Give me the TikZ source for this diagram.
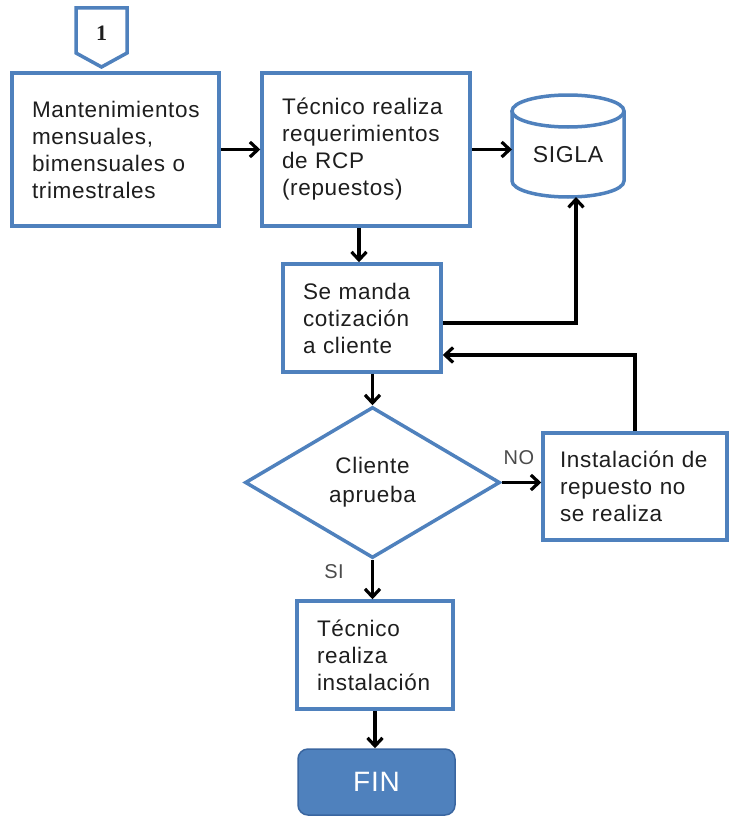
\documentclass[tikz,border=0pt]{standalone}
\usepackage{fontspec}
\setmainfont{Liberation Sans}[LetterSpace=3]
\newfontfamily\numfont{Liberation Serif}
\usetikzlibrary{shapes.geometric,arrows.meta,calc}
\definecolor{flowblue}{HTML}{4F81BD}
\definecolor{flowdark}{HTML}{3A66A0}
\definecolor{ink}{HTML}{1E1E1E}

\begin{document}
\begin{tikzpicture}[x=1pt,y=-1pt,
  txt/.style={font=\fontsize{22.5pt}{27pt}\selectfont, text=ink,
    execute at begin node={\hyphenpenalty=10000\relax}},
  procbox/.style={txt, draw=flowblue, line width=3.5pt, fill=white,
    inner xsep=0pt, inner ysep=0pt, align=left},
  decision/.style={diamond, draw=flowblue, line width=3.5pt, fill=white,
    font=\fontsize{22.5pt}{29pt}\selectfont, text=ink, align=center, inner sep=0pt},
  cyl/.style={draw=flowblue, line width=3.5pt},
  flow/.style={draw=black, line width=3.2pt, -{Straight Barb[length=8pt,width=15pt]}},
  tag/.style={font=\fontsize{20pt}{24pt}\selectfont, text=ink!80}
]
\useasboundingbox (0,0) rectangle (728,816);

% off-page connector
\draw[cyl, fill=white, line join=miter] (76,8) -- (127,8) -- (127,53) -- (101.5,67) -- (76,53) -- cycle;
\node[font=\numfont\bfseries\fontsize{22pt}{24pt}\selectfont, text=ink] (conn) at (101.5,33) {1};

% process boxes
\node[procbox, minimum width=207pt, minimum height=153pt, text width=167pt]
  (mant) at (115.5,149.5) {Mantenimientos\\mensuales,\\bimensuales o\\trimestrales};
\node[procbox, minimum width=208pt, minimum height=153pt, text width=168pt]
  (tec) at (366,149.5) {Técnico realiza\\requerimientos\\de RCP\\(repuestos)};
\node[procbox, minimum width=158pt, minimum height=108pt, text width=118pt]
  (cot) at (362,318) {Se manda\\cotización\\a cliente};
\node[procbox, minimum width=184pt, minimum height=107pt, text width=150pt]
  (inst) at (635,486.5) {Instalación de\\repuesto no\\se realiza};
\node[procbox, minimum width=156pt, minimum height=108pt, text width=116pt]
  (tinst) at (375,655) {Técnico\\realiza\\instalación};

% decision
\node[decision, minimum width=255pt, minimum height=151pt] (dec) at (372.5,482.5) {Cliente\\aprueba};

% database cylinder
\node[minimum width=112pt, minimum height=102pt, inner sep=0pt, outer sep=0pt] (sigla) at (568,146) {};
\fill[white] (512,111) -- (512,181) .. controls (512,189.84) and (537.07,197) .. (568,197)
  .. controls (598.93,197) and (624,189.84) .. (624,181) -- (624,111) -- cycle;
\draw[cyl] (512,111) -- (512,181) .. controls (512,189.84) and (537.07,197) .. (568,197)
  .. controls (598.93,197) and (624,189.84) .. (624,181) -- (624,111);
\draw[cyl, fill=white] (568,111) ellipse [x radius=56, y radius=16];
\node[font=\fontsize{23pt}{26pt}\selectfont, text=ink] (siglatext) at (568,155) {SIGLA};

% terminator
\node[draw=flowdark, fill=flowblue, rounded corners=10pt, line width=1.5pt,
  minimum width=157pt, minimum height=66pt, text=white,
  font=\fontsize{28pt}{32pt}\selectfont] (fin) at (376.5,782) {FIN};

% connectors
\draw[flow] (mant.east) -- (tec.west);
\draw[flow] (tec.east) -- (tec.east -| sigla.west);
\coordinate (tq) at ($(tec.south)+(-7,0)$);
\draw[flow] (tq) -- (tq |- cot.north);
\coordinate (cr) at ($(cot.east)+(0,5)$);
\coordinate (sg) at ($(sigla.south)+(8,0)$);
\draw[flow] (cr) -| (sg);
\coordinate (cl) at ($(cot.east)+(0,37)$);
\draw[flow] (inst.north) |- (cl);
\draw[flow] (cot.south -| dec.north) -- (dec.north);
\draw[flow] (dec.east) -- (dec.east -| inst.west);
\draw[flow] (dec.south) -- (dec.south |- tinst.north);
\draw[flow] (tinst.south) -- (tinst.south |- fin.north);

% branch labels
\node[tag] (no) at (519,458) {NO};
\node[tag] (si) at (334,572) {SI};
\end{tikzpicture}
\end{document}
